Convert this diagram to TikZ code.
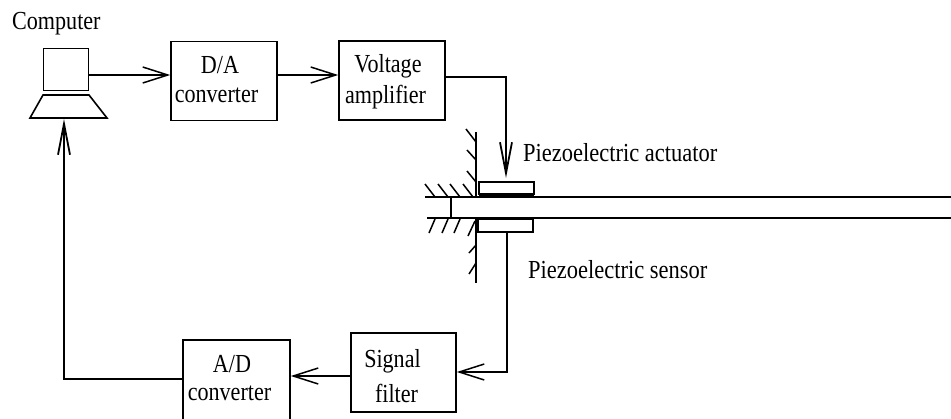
\documentclass[tikz,border=0pt]{standalone}
\usepackage{fontspec}
\setmainfont{Liberation Serif}
\newfontfamily\sqa[FakeStretch=0.85]{Liberation Serif}
\newfontfamily\sqb[FakeStretch=0.865]{Liberation Serif}
\usetikzlibrary{arrows.meta}
\tikzset{
  blk/.style={draw,line width=1.6pt,rectangle,inner sep=0pt},
  lbl/.style={inner sep=0pt,anchor=base,font=\fontsize{26}{28}\selectfont\sqa},
  txt/.style={inner sep=0pt,anchor=base west,font=\fontsize{26}{28}\selectfont\sqb},
  con/.style={line width=1.5pt,-{Straight Barb[length=25pt,width=16pt,line width=1.5pt]}},
  condown/.style={line width=1.5pt,-{Straight Barb[length=31pt,width=12pt,line width=1.8pt]}},
  beam/.style={line width=1.7pt},
  hatch/.style={line width=1.5pt}
}
\begin{document}
\begin{tikzpicture}[x=1pt,y=-1pt]
\useasboundingbox (0,0) rectangle (951,418);
\fill[white] (0,0) rectangle (951,418);
\node[inner sep=0pt,anchor=base west,font=\fontsize{26}{28}\selectfont\sqa] (comp) at (12,29) {Computer};
\node[blk,minimum width=45pt,minimum height=42pt] (screen) at (66,69.5) {};
\coordinate (kb1) at (43,95); \coordinate (kb2) at (89,95); \coordinate (kb3) at (107,118); \coordinate (kb4) at (30,118);
\draw[blk] (kb1)--(kb2)--(kb3)--(kb4)--cycle;
\node[blk,minimum width=106pt,minimum height=79pt] (da) at (224,81) {};
\node[lbl] (dat) at (220,73) {D/A};
\node[lbl] (dat2) at (216.5,102) {converter};
\node[blk,minimum width=106pt,minimum height=79pt] (va) at (392,80.5) {};
\node[lbl] (vat) at (388,72) {Voltage};
\node[lbl] (vat2) at (385.5,103) {amplifier};
\node[blk,minimum width=105pt,minimum height=79pt] (sf) at (403.5,372.5) {};
\node[lbl] (sft) at (392.5,367) {Signal};
\node[lbl] (sft2) at (396.5,402) {filter};
\node[blk,minimum width=107pt,minimum height=90pt] (ad) at (236.5,385) {};
\node[lbl] (adt) at (232,372) {A/D};
\node[lbl] (adt2) at (229.5,400) {converter};
\node[txt] (pa) at (523,161) {Piezoelectric actuator};
\node[txt] (ps) at (528,278) {Piezoelectric sensor};
% connectors
\draw[con] (screen.east|-0,75) -- (da.west|-0,75);
\draw[con] (da.east|-0,75) -- (va.west|-0,75);
\node[draw,line width=1.5pt,inner sep=0pt,minimum width=55pt,minimum height=12pt] (act) at (506.5,188) {};
\node[draw,line width=1.5pt,inner sep=0pt,minimum width=55pt,minimum height=13pt] (sen) at (505.5,225.5) {};
\coordinate (acttop) at (506,178);
\draw[condown] (va.east|-0,77) -| (acttop);
\draw[con] (sen.south-|507,0) |- (sf.east|-0,372);
\draw[con] (sf.west|-0,376) -- (ad.east|-0,376);
\coordinate (kbm) at (64,119);
\draw[condown] (ad.west|-0,379) -| (kbm);
% beam
\draw[beam] (425,197) -- (951,197);
\draw[beam] (427,218) -- (951,218);
\draw[beam] (451,197) -- (451,218);
\draw[beam] (479,195) -- (534,195);
% wall
\draw[beam] (476,132) -- (476,197);
\draw[beam] (476,218) -- (476,283);
\draw[hatch] (476,142) -- (466,129);
\draw[hatch] (476,160) -- (467,150);
\draw[hatch] (476,182) -- (467,171);
\foreach \x in {435,448,460,473} \draw[hatch] (\x,197) -- (\x-10,184);
\foreach \x in {435,448,460} \draw[hatch] (\x,219) -- (\x-6,233);
\draw[hatch] (475,221) -- (468,236);
\draw[hatch] (476,245) -- (469,253);
\draw[hatch] (476,263) -- (469,274);
\end{tikzpicture}
\end{document}
